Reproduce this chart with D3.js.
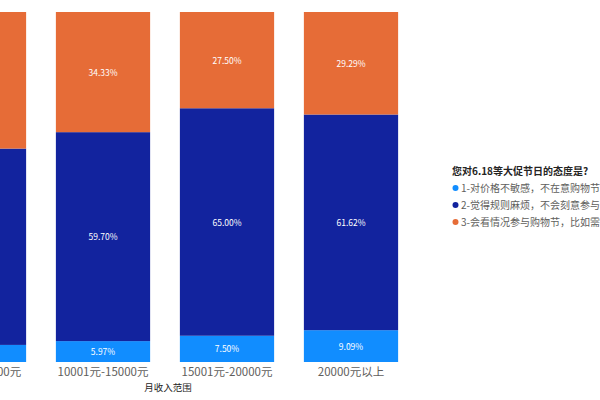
<!DOCTYPE html>
<html>
<head>
<meta charset="utf-8">
<script src="https://cdn.jsdelivr.net/npm/d3@7"></script>
<style>
  body { margin: 0; background: #fff; }
  svg { display: block; font-family: "Segoe UI", "Noto Sans CJK SC", sans-serif; }
</style>
</head>
<body>
<svg id="chart"></svg>
<script>
const width = 600;
const height = 400;

// Data
const categories = ["5001元-10000元", "10001元-15000元", "15001元-20000元", "20000元以上"];
const seriesNames = [
  "1-对价格不敏感，不在意购物节的优惠",
  "2-觉得规则麻烦，不会刻意参与购物节",
  "3-会看情况参与购物节，比如需要购买的东西"
];
const series1 = [4.88, 5.97, 7.50, 9.09];
const series2 = [56.10, 59.70, 65.00, 61.62];
const series3 = [39.02, 34.33, 27.50, 29.29];
const colors = ["#118DFF", "#12239E", "#E66C37"];
const legendTitle = "您对6.18等大促节日的态度是?";
const axisTitle = "月收入范围";

const svg = d3.select("#chart").attr("width", width).attr("height", height);

const x = d3.scaleBand()
  .domain(categories)
  .range([-83, 413])
  .paddingInner(0.24)
  .paddingOuter(0.12);

const y = d3.scaleLinear().domain([0, 100]).range([362, 12]);

const table = categories.map((c, i) => ({
  cat: c, s0: series1[i], s1: series2[i], s2: series3[i]
}));
const stacked = d3.stack().keys(["s0", "s1", "s2"])(table);

// Bars
const layers = svg.selectAll("g.layer")
  .data(stacked)
  .enter()
  .append("g")
  .attr("class", "layer")
  .attr("fill", (d, i) => colors[i]);

layers.selectAll("rect")
  .data(d => d)
  .enter()
  .append("rect")
  .attr("x", d => x(d.data.cat))
  .attr("width", x.bandwidth())
  .attr("y", d => y(d[1]))
  .attr("height", d => y(d[0]) - y(d[1]));

// Data labels (only where the bar centre is inside the view, like the cropped visual)
layers.selectAll("text")
  .data(d => d.filter(p => x(p.data.cat) + x.bandwidth() / 2 > 20))
  .enter()
  .append("text")
  .attr("x", d => x(d.data.cat) + x.bandwidth() / 2)
  .attr("y", d => (y(d[0]) + y(d[1])) / 2 + 3.5)
  .attr("text-anchor", "middle")
  .attr("fill", "white")
  .style("font-size", "8.5px")
  .text(d => (d[1] - d[0]).toFixed(2) + "%");

// X axis
const xAxis = svg.append("g")
  .attr("transform", "translate(0,362)")
  .call(d3.axisBottom(x).tickSize(0).tickPadding(6));
xAxis.select(".domain").remove();
xAxis.selectAll("text")
  .attr("fill", "#605E5C")
  .style("font-size", "11.5px")
  .style("font-family", "\"Noto Sans CJK SC\", sans-serif");

svg.append("text")
  .attr("x", 168)
  .attr("y", 391)
  .attr("text-anchor", "middle")
  .attr("fill", "#252423")
  .style("font-size", "9.5px")
  .style("font-family", "\"Noto Sans CJK SC\", sans-serif")
  .text(axisTitle);

// Legend
const legend = svg.append("g").attr("transform", "translate(452,0)");
legend.append("text")
  .attr("x", 0)
  .attr("y", 175)
  .attr("fill", "#252423")
  .style("font-size", "10px")
  .style("font-weight", "bold")
  .style("font-family", "\"Noto Sans CJK SC\", sans-serif")
  .text(legendTitle);

const items = legend.selectAll("g.item")
  .data(seriesNames)
  .enter()
  .append("g")
  .attr("class", "item")
  .attr("transform", (d, i) => `translate(0,${188 + i * 17})`);

items.append("circle")
  .attr("cx", 3.5)
  .attr("cy", 0)
  .attr("r", 3)
  .attr("fill", (d, i) => colors[i]);

items.append("text")
  .attr("x", 9)
  .attr("y", 3.5)
  .attr("fill", "#605E5C")
  .style("font-size", "10px")
  .style("font-family", "\"Noto Sans CJK SC\", sans-serif")
  .text(d => d);
</script>
</body>
</html>
